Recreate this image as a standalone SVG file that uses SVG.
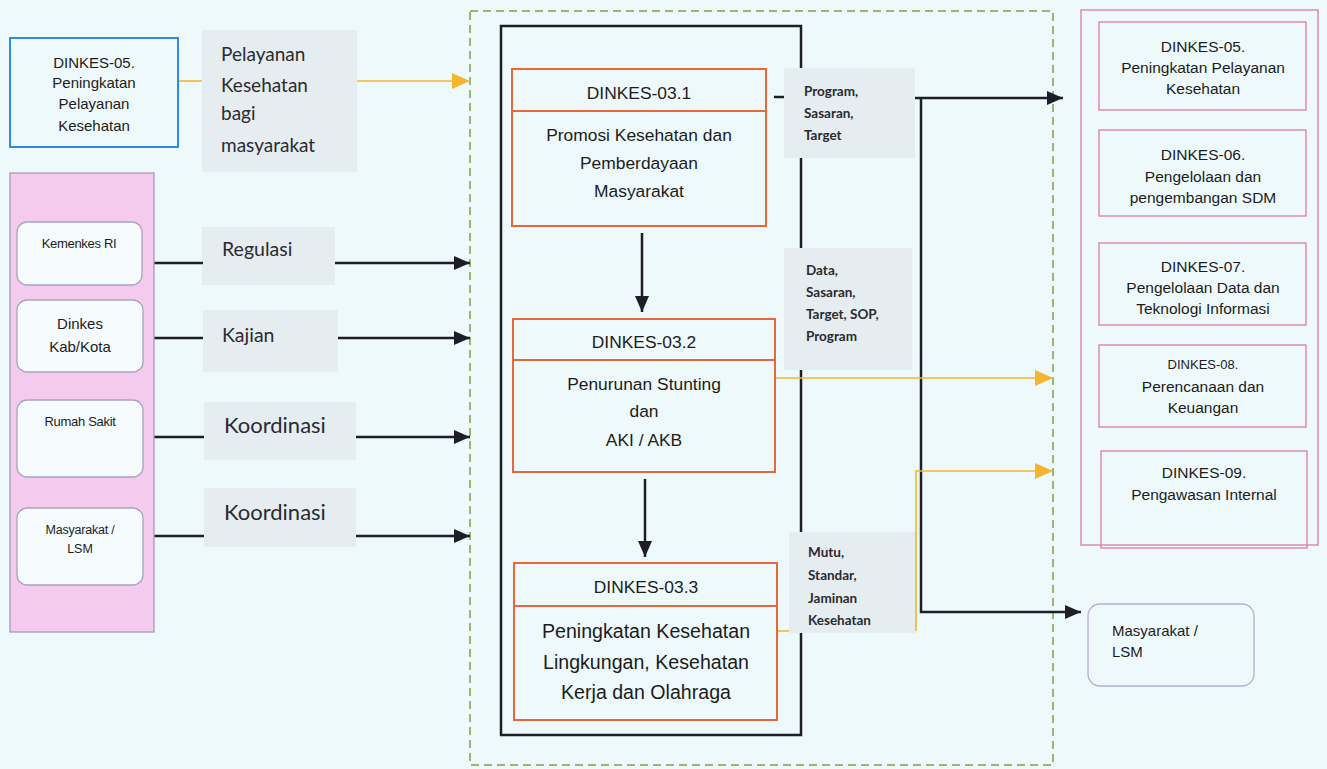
<svg xmlns="http://www.w3.org/2000/svg" width="1327" height="769" viewBox="0 0 1327 769">
<defs>
<style>
.bg{fill:#eef9fb}
.ar{font-family:"Liberation Sans",Arial,sans-serif;fill:#1c1c1c}
.cal{font-family:Lato,"Open Sans",sans-serif;fill:#2a2a30}
.lbl{fill:#e5edf0}
.obox{fill:none;stroke:#e9673d;stroke-width:2}
.pink{fill:none;stroke:#e07c9c;stroke-width:1.3}
.wbox{fill:#f6fbfd;stroke:#a9a3c4;stroke-width:1.3}
.blk{fill:none;stroke:#1e1e2a;stroke-width:2.5}
.org{fill:none;stroke:#f6b52e;stroke-width:1.6}
.mid{text-anchor:middle}
</style>
<marker id="ab" viewBox="0 0 16 14" refX="16" refY="7" markerWidth="16" markerHeight="14" markerUnits="userSpaceOnUse" orient="auto"><path d="M0,0 L16,7 L0,14 Z" fill="#1e1e2a"/></marker>
<marker id="ao" viewBox="0 0 18 16" refX="18" refY="8" markerWidth="18" markerHeight="16" markerUnits="userSpaceOnUse" orient="auto"><path d="M0,0 L18,8 L0,16 Z" fill="#f6b52e"/></marker>
</defs>
<rect class="bg" x="0" y="0" width="1327" height="769"/>

<!-- containers -->
<rect x="470" y="11" width="583" height="754" fill="none" stroke="#7ba440" stroke-width="1.5" stroke-dasharray="8 5"/>
<rect x="501" y="26" width="300" height="709" class="blk"/>

<!-- label boxes -->
<g id="labels">
<rect class="lbl" x="202" y="30" width="155" height="142"/>
<text class="cal" font-size="19" x="221" y="61">Pelayanan</text>
<text class="cal" font-size="19" x="221" y="92">Kesehatan</text>
<text class="cal" font-size="19" x="221" y="120">bagi</text>
<text class="cal" font-size="19" x="221" y="152">masyarakat</text>
<rect class="lbl" x="202" y="227" width="133" height="58"/>
<text class="cal" font-size="19.5" x="222" y="256">Regulasi</text>
<rect class="lbl" x="203" y="310" width="135" height="62"/>
<text class="cal" font-size="19.5" x="222" y="342">Kajian</text>
<rect class="lbl" x="204" y="402" width="152" height="58"/>
<text class="cal" font-size="22" x="224" y="433">Koordinasi</text>
<rect class="lbl" x="204" y="488" width="152" height="59"/>
<text class="cal" font-size="22" x="224" y="520">Koordinasi</text>
<rect class="lbl" x="784" y="68" width="131" height="90"/>
<text class="cal" font-size="13.5" font-weight="bold" x="804" y="96">Program,</text>
<text class="cal" font-size="13.5" font-weight="bold" x="804" y="118">Sasaran,</text>
<text class="cal" font-size="13.5" font-weight="bold" x="804" y="140">Target</text>
<rect class="lbl" x="784" y="248" width="128" height="122"/>
<text class="cal" font-size="13.5" font-weight="bold" x="806" y="275">Data,</text>
<text class="cal" font-size="13.5" font-weight="bold" x="806" y="297">Sasaran,</text>
<text class="cal" font-size="13.5" font-weight="bold" x="806" y="319">Target, SOP,</text>
<text class="cal" font-size="13.5" font-weight="bold" x="806" y="341">Program</text>
<rect class="lbl" x="789" y="532" width="127" height="101"/>
<text class="cal" font-size="13.5" font-weight="bold" x="808" y="557">Mutu,</text>
<text class="cal" font-size="13.5" font-weight="bold" x="808" y="580">Standar,</text>
<text class="cal" font-size="13.5" font-weight="bold" x="808" y="603">Jaminan</text>
<text class="cal" font-size="13.5" font-weight="bold" x="808" y="625">Kesehatan</text>
</g>

<!-- connectors -->
<g id="connectors">
<path class="org" d="M179,81 H202"/>
<path class="org" d="M357,81 H470" marker-end="url(#ao)"/>
<path class="blk" stroke-width="2.2" d="M154,263 H203"/>
<path class="blk" stroke-width="2.2" d="M335,263 H470" marker-end="url(#ab)"/>
<path class="blk" stroke-width="2.2" d="M154,338 H203"/>
<path class="blk" stroke-width="2.2" d="M338,338 H470" marker-end="url(#ab)"/>
<path class="blk" stroke-width="2.2" d="M154,437 H204"/>
<path class="blk" stroke-width="2.2" d="M356,437 H470" marker-end="url(#ab)"/>
<path class="blk" stroke-width="2.2" d="M154,536 H204"/>
<path class="blk" stroke-width="2.2" d="M356,536 H470" marker-end="url(#ab)"/>
<path class="blk" stroke-width="2" d="M642,233 V312" marker-end="url(#ab)"/>
<path class="blk" stroke-width="2" d="M645,479 V557" marker-end="url(#ab)"/>
<path class="blk" stroke-width="2" d="M774,97 H784"/>
<path class="blk" stroke-width="2.2" d="M915,98 H1063" marker-end="url(#ab)"/>
<path class="blk" stroke-width="2.2" d="M921,98 V612 H1081" marker-end="url(#ab)"/>
<path class="org" d="M775,378 H1053" marker-end="url(#ao)"/>
<path class="org" d="M777,631 H789"/>
<path class="org" d="M916,631 V471 H1053" marker-end="url(#ao)"/>
</g>

<!-- left nodes -->
<g id="dinkes05-left">
<rect x="10" y="38" width="168" height="109" fill="none" stroke="#2f8be0" stroke-width="2"/>
<text class="ar mid" font-size="15" x="94" y="68">DINKES-05.</text>
<text class="ar mid" font-size="15" x="94" y="88">Peningkatan</text>
<text class="ar mid" font-size="15" x="94" y="109">Pelayanan</text>
<text class="ar mid" font-size="15" x="94" y="131">Kesehatan</text>
</g>
<g id="stakeholders">
<rect x="10" y="173" width="144" height="459" fill="#f5cbed" stroke="#a79cbb" stroke-width="1.3"/>
</g>
<g id="kemenkes">
<rect class="wbox" x="17" y="222" width="125" height="63" rx="10"/>
<text class="ar mid" font-size="13" letter-spacing="-0.3" x="79" y="248">Kemenkes RI</text>
</g>
<g id="dinkes-kab">
<rect class="wbox" x="17" y="300" width="126" height="72" rx="10"/>
<text class="ar mid" font-size="15" x="80" y="329">Dinkes</text>
<text class="ar mid" font-size="15" x="80" y="352">Kab/Kota</text>
</g>
<g id="rumah-sakit">
<rect class="wbox" x="17" y="400" width="126" height="77" rx="10"/>
<text class="ar mid" font-size="13" letter-spacing="-0.3" x="80" y="426">Rumah Sakit</text>
</g>
<g id="masyarakat-left">
<rect class="wbox" x="17" y="508" width="126" height="77" rx="10"/>
<text class="ar mid" font-size="12.5" letter-spacing="-0.2" x="80" y="534">Masyarakat /</text>
<text class="ar mid" font-size="12.5" x="80" y="553">LSM</text>
</g>

<!-- center nodes -->
<g id="dinkes-03-1">
<rect class="obox" x="512" y="69" width="254" height="157"/>
<path class="obox" d="M512,111 H766"/>
<text class="ar mid" font-size="17.4" x="639" y="99">DINKES-03.1</text>
<text class="ar mid" font-size="17.4" x="639" y="141">Promosi Kesehatan dan</text>
<text class="ar mid" font-size="17.4" x="639" y="169">Pemberdayaan</text>
<text class="ar mid" font-size="17.4" x="639" y="197">Masyarakat</text>
</g>
<g id="dinkes-03-2">
<rect class="obox" x="513" y="319" width="262" height="153"/>
<path class="obox" d="M513,360 H775"/>
<text class="ar mid" font-size="17.4" x="644" y="348">DINKES-03.2</text>
<text class="ar mid" font-size="17.4" x="644" y="390">Penurunan Stunting</text>
<text class="ar mid" font-size="17.4" x="644" y="417">dan</text>
<text class="ar mid" font-size="17.4" x="644" y="446">AKI / AKB</text>
</g>
<g id="dinkes-03-3">
<rect class="obox" x="514" y="563" width="263" height="157"/>
<path class="obox" d="M514,606 H777"/>
<text class="ar mid" font-size="17.4" x="646" y="593">DINKES-03.3</text>
<text class="ar mid" font-size="19.6" x="646" y="638">Peningkatan Kesehatan</text>
<text class="ar mid" font-size="19.6" x="646" y="669">Lingkungan, Kesehatan</text>
<text class="ar mid" font-size="19.6" x="646" y="699">Kerja dan Olahraga</text>
</g>

<!-- right nodes -->
<g id="internal-units">
<rect class="pink" x="1081" y="10" width="237" height="535"/>
</g>
<g id="dinkes-05">
<rect class="pink" x="1099" y="22" width="207" height="88" fill="#eef9fb"/>
<text class="ar mid" font-size="15.5" x="1203" y="52">DINKES-05.</text>
<text class="ar mid" font-size="15.5" x="1203" y="73">Peningkatan Pelayanan</text>
<text class="ar mid" font-size="15.5" x="1203" y="94">Kesehatan</text>
</g>
<g id="dinkes-06">
<rect class="pink" x="1099" y="130" width="207" height="86"/>
<text class="ar mid" font-size="15.5" x="1203" y="160">DINKES-06.</text>
<text class="ar mid" font-size="15.5" x="1203" y="182">Pengelolaan dan</text>
<text class="ar mid" font-size="15.5" x="1203" y="203">pengembangan SDM</text>
</g>
<g id="dinkes-07">
<rect class="pink" x="1099" y="243" width="207" height="82"/>
<text class="ar mid" font-size="15.5" x="1203" y="272">DINKES-07.</text>
<text class="ar mid" font-size="15.5" x="1203" y="293">Pengelolaan Data dan</text>
<text class="ar mid" font-size="15.5" x="1203" y="314">Teknologi Informasi</text>
</g>
<g id="dinkes-08">
<rect class="pink" x="1099" y="345" width="207" height="82"/>
<text class="ar mid" font-size="13" x="1203" y="369">DINKES-08.</text>
<text class="ar mid" font-size="15.5" x="1203" y="392">Perencanaan dan</text>
<text class="ar mid" font-size="15.5" x="1203" y="413">Keuangan</text>
</g>
<g id="dinkes-09">
<rect class="pink" x="1101" y="451" width="206" height="97" fill="#eef9fb"/>
<text class="ar mid" font-size="15.5" x="1204" y="478">DINKES-09.</text>
<text class="ar mid" font-size="15.5" x="1204" y="500">Pengawasan Internal</text>
</g>
<g id="masyarakat-right">
<rect x="1088" y="604" width="166" height="82" rx="12" fill="none" stroke="#b7aed0" stroke-width="1.3"/>
<text class="ar" font-size="15" x="1112" y="636">Masyarakat /</text>
<text class="ar" font-size="15" x="1112" y="657">LSM</text>
</g>
</svg>
